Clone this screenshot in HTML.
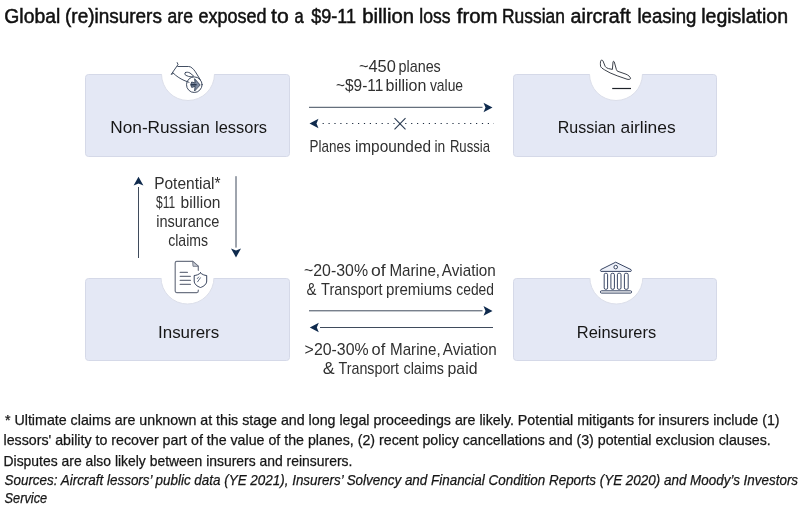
<!DOCTYPE html>
<html><head><meta charset="utf-8">
<style>
html,body{margin:0;padding:0;background:#fff;}
body{width:806px;height:510px;overflow:hidden;position:relative;}
svg{position:absolute;left:0;top:0;display:block;}
#dg{will-change:transform;}

text{font-family:"Liberation Sans",sans-serif;fill:#222;}
.t{font-size:19.6px;font-weight:normal;fill:#111;stroke:#111;stroke-width:0.5px;}
.m{font-size:16.4px;fill:#303030;}
.b{font-size:17.4px;fill:#161616;}
.f{font-size:14.2px;fill:#161616;stroke:#161616;stroke-width:0.25px;}
.s{font-size:14px;font-style:italic;fill:#161616;stroke:#161616;stroke-width:0.25px;}
</style></head>
<body>
<svg id="dg" width="806" height="510" viewBox="0 0 806 510">
<defs>
  <clipPath id="cb1"><rect x="0" y="74" width="806" height="40"/></clipPath>
  <clipPath id="cb2"><rect x="0" y="278" width="806" height="40"/></clipPath>
</defs>

<!-- boxes -->
<g fill="#e4e8f5" stroke="#d5d9e8" stroke-width="1">
  <rect x="85.5" y="74.5" width="204" height="82" rx="3"/>
  <rect x="513.5" y="74.5" width="203" height="82" rx="3"/>
  <rect x="85.5" y="278.5" width="204" height="82" rx="3"/>
  <rect x="513.5" y="278.5" width="203" height="82" rx="3"/>
</g>
<!-- circles -->
<g fill="#fff" stroke="#dcdfea" stroke-width="1">
  <circle cx="188" cy="74" r="26.5" clip-path="url(#cb1)"/>
  <circle cx="616" cy="74" r="26.5" clip-path="url(#cb1)"/>
  <circle cx="187.5" cy="277.5" r="26.5" clip-path="url(#cb2)"/>
  <circle cx="616.3" cy="277.5" r="26.5" clip-path="url(#cb2)"/>
</g>

<!-- icon: hand + coin -->
<g fill="none" stroke="#2c3a50" stroke-width="0.9" stroke-linecap="round" stroke-linejoin="round">
  <path d="M177.2 62.6 L178 64.6 L171.2 74.4 L173.4 73.4"/>
  <path d="M177.8 66.5 L188.6 66.5 C191 66.4 193.5 69 195.4 71.8 L200.2 79.6"/>
  <path d="M173.4 73.2 C176 76 180 78.6 184 80.4 L189 82.3"/>
  <path d="M185.3 72.6 C186.3 71.9 188.4 72.1 190 73 L193.6 76 C192.5 77 190.5 77 188.5 76.4 L186 75.4 C184.6 74.8 184.5 73.2 185.3 72.6 Z"/>
  <circle cx="194.3" cy="84.7" r="7.8"/>
  <path d="M199.9 84.7 L194.6 78.7 L195.1 83 L191.7 82 L190.7 84.7 L191.7 87.4 L195.1 86.4 L194.6 90.7 Z" stroke-width="0.85" fill="#7d8aa0"/>
  <path d="M191.5 84.7 L196 84.7" stroke-width="1.6"/>
</g>
<!-- icon: plane landing -->
<g fill="none" stroke="#262b36" stroke-width="0.9" stroke-linejoin="round">
  <path d="M600.8 60.6 C601.6 59.9 602.6 60.1 603 61 L605.2 66.4 C606 67.6 607 68.2 608.5 68.6 L612.4 69.4 L613 62 C613.2 61 614 61.2 614.3 62 L616.4 69.6 C616.6 70.5 617 71 618 71.4 L626 74.2 C628.5 75.2 630.3 76.8 630.6 78.6 C629.8 79.6 628.3 79.5 627 79.2 L617.2 75.8 L610.1 72.9 L604.5 69.8 C602.5 68.6 601 67.5 600.6 66.4 C600.3 64.5 600.3 62 600.8 60.6 Z"/>
  <line x1="612.2" y1="88.5" x2="631" y2="88.5" stroke="#1e2229" stroke-width="1.2"/>
</g>
<!-- icon: document + shield -->
<g fill="none" stroke="#6e7584" stroke-width="1.2" stroke-linejoin="round" stroke-linecap="round">
  <path d="M198.3 270.3 L198.3 266.2 L192.7 261.4 L176.7 261.4 Q175.2 261.4 175.2 262.9 L175.2 291.1 Q175.2 292.6 176.7 292.6 L196.8 292.6 Q198.3 292.6 198.3 291.1 L198.3 290"/>
  <path d="M192.7 261.6 L193 266.3 L198 266.3 Z" fill="#c9cdd6" stroke-width="0.9"/>
  <path d="M180.2 272.4 L187.4 272.4 M180.2 276.3 L190.4 276.3 M180.2 280.4 L190.4 280.4 M180.2 284.4 L190.4 284.4"/>
</g>
<g fill="#fff" stroke="#2e3b55" stroke-width="0.95" stroke-linejoin="round" stroke-linecap="round">
  <path d="M200.5 272.9 C198.8 274.5 196.5 275.4 194.2 275.5 L194.2 281 C194.2 284 197 286.4 200.5 287.5 C204 286.4 206.7 284 206.7 281 L206.7 275.5 C204.4 275.4 202.2 274.5 200.5 272.9 Z"/>
  <path d="M197.3 278.6 L198.7 277 M197.6 281.8 L200.4 277.8" stroke="#55637a"/>
</g>
<!-- icon: bank -->
<g fill="#fff" stroke="#2e3c5c" stroke-width="0.95" stroke-linejoin="round">
  <path d="M615.7 262.2 L600.8 269.6 Q600 270.6 600.9 271.4 L630.9 271.4 Q631.8 270.6 631 269.6 Z" fill="#eef1f9"/>
  <circle cx="615.7" cy="267.1" r="1.8"/>
  <rect x="604.2" y="273.3" width="3.4" height="16" rx="1.4"/>
  <rect x="610.9" y="273.3" width="3.5" height="16" rx="1.4"/>
  <rect x="617.4" y="273.3" width="3.6" height="16" rx="1.4"/>
  <rect x="624.4" y="273.3" width="3.8" height="16" rx="1.4"/>
  <rect x="600.4" y="290.8" width="31.2" height="2.3" rx="1.1"/>
</g>

<!-- box labels -->
<text id="NRL_0" class="b" x="110.30" y="133.3" textLength="99.53" lengthAdjust="spacingAndGlyphs">Non-Russian</text>
<text id="NRL_1" class="b" x="215.00" y="133.3" textLength="52.09" lengthAdjust="spacingAndGlyphs">lessors</text>
<text id="RA_0" class="b" x="557.70" y="133.3" textLength="57.84" lengthAdjust="spacingAndGlyphs">Russian</text>
<text id="RA_1" class="b" x="620.50" y="133.3" textLength="55.09" lengthAdjust="spacingAndGlyphs">airlines</text>
<text id="Ins" class="b" x="158.00" y="337.5" textLength="61.21" lengthAdjust="spacingAndGlyphs">Insurers</text>
<text id="Reins" class="b" x="576.80" y="337.5" textLength="79.38" lengthAdjust="spacingAndGlyphs">Reinsurers</text>

<!-- middle texts top -->
<text id="450_0" class="m" x="358.90" y="72.1" textLength="36.92" lengthAdjust="spacingAndGlyphs">~450</text>
<text id="450_1" class="m" x="398.50" y="72.1" textLength="42.31" lengthAdjust="spacingAndGlyphs">planes</text>
<text id="9-11_0" class="m" x="336.00" y="91.0" textLength="47.28" lengthAdjust="spacingAndGlyphs">~$9-11</text>
<text id="9-11_1" class="m" x="385.50" y="91.0" textLength="40.92" lengthAdjust="spacingAndGlyphs">billion</text>
<text id="9-11_2" class="m" x="429.90" y="91.0" textLength="33.19" lengthAdjust="spacingAndGlyphs">value</text>
<text id="impounded_0" class="m" x="309.60" y="152.0" textLength="41.12" lengthAdjust="spacingAndGlyphs">Planes</text>
<text id="impounded_1" class="m" x="354.90" y="152.0" textLength="76.11" lengthAdjust="spacingAndGlyphs">impounded</text>
<text id="impounded_2" class="m" x="434.40" y="152.0" textLength="10.77" lengthAdjust="spacingAndGlyphs">in</text>
<text id="impounded_3" class="m" x="449.90" y="152.0" textLength="40.11" lengthAdjust="spacingAndGlyphs">Russia</text>

<!-- middle texts bottom -->
<text id="m1_0" class="m" x="304.00" y="275.6" textLength="64.08" lengthAdjust="spacingAndGlyphs">~20-30%</text>
<text id="m1_1" class="m" x="371.00" y="275.6" textLength="14.67" lengthAdjust="spacingAndGlyphs">of</text>
<text id="m1_2" class="m" x="389.40" y="275.6" textLength="50.66" lengthAdjust="spacingAndGlyphs">Marine,</text>
<text id="m1_3" class="m" x="441.80" y="275.6" textLength="54.02" lengthAdjust="spacingAndGlyphs">Aviation</text>
<text id="m2_0" class="m" x="306.50" y="294.8" textLength="9.94" lengthAdjust="spacingAndGlyphs">&amp;</text>
<text id="m2_1" class="m" x="321.10" y="294.8" textLength="61.55" lengthAdjust="spacingAndGlyphs">Transport</text>
<text id="m2_2" class="m" x="386.10" y="294.8" textLength="65.95" lengthAdjust="spacingAndGlyphs">premiums</text>
<text id="m2_3" class="m" x="456.30" y="294.8" textLength="37.67" lengthAdjust="spacingAndGlyphs">ceded</text>
<text id="m3_0" class="m" x="304.60" y="355.2" textLength="64.08" lengthAdjust="spacingAndGlyphs">&gt;20-30%</text>
<text id="m3_1" class="m" x="371.60" y="355.2" textLength="13.67" lengthAdjust="spacingAndGlyphs">of</text>
<text id="m3_2" class="m" x="390.00" y="355.2" textLength="50.66" lengthAdjust="spacingAndGlyphs">Marine,</text>
<text id="m3_3" class="m" x="442.80" y="355.2" textLength="54.02" lengthAdjust="spacingAndGlyphs">Aviation</text>
<text id="m4_0" class="m" x="322.80" y="374.3" textLength="11.94" lengthAdjust="spacingAndGlyphs">&amp;</text>
<text id="m4_1" class="m" x="338.50" y="374.3" textLength="60.55" lengthAdjust="spacingAndGlyphs">Transport</text>
<text id="m4_2" class="m" x="403.50" y="374.3" textLength="40.45" lengthAdjust="spacingAndGlyphs">claims</text>
<text id="m4_3" class="m" x="447.50" y="374.3" textLength="30.00" lengthAdjust="spacingAndGlyphs">paid</text>

<!-- potential -->
<text id="pot1" class="m" x="154.20" y="188.7" textLength="66.28" lengthAdjust="spacingAndGlyphs">Potential*</text>
<text id="pot2_0" class="m" x="156.00" y="207.6" textLength="19.14" lengthAdjust="spacingAndGlyphs">$11</text>
<text id="pot2_1" class="m" x="180.60" y="207.6" textLength="39.92" lengthAdjust="spacingAndGlyphs">billion</text>
<text id="pot3" class="m" x="156.20" y="226.7" textLength="63.08" lengthAdjust="spacingAndGlyphs">insurance</text>
<text id="pot4" class="m" x="168.20" y="246.0" textLength="39.89" lengthAdjust="spacingAndGlyphs">claims</text>

<!-- arrows -->
<g stroke="#3f4b5c" stroke-width="1" fill="none">
  <line x1="309" y1="107.3" x2="482.5" y2="107.3"/>
  <line x1="309" y1="310.8" x2="482.5" y2="310.8"/>
  <line x1="320" y1="327.5" x2="493" y2="327.5"/>
  <line x1="138.5" y1="187" x2="138.5" y2="258"/>
  <line x1="236" y1="176.2" x2="236" y2="247.6"/>
</g>
<g fill="#0f2a4d">
  <!-- right heads -->
  <path d="M492.5 107.5 L483.5 102.8 L485.5 107.5 L483.5 112.2 Z"/>
  <path d="M492.5 310.9 L483.5 306.1 L485.5 310.9 L483.5 315.7 Z"/>
  <!-- left heads -->
  <path d="M309.5 123.5 L318.5 118.8 L316.5 123.5 L318.5 128.2 Z"/>
  <path d="M309.8 327.5 L318.8 322.8 L316.8 327.5 L318.8 332.2 Z"/>
  <!-- up head -->
  <path d="M138.5 176.8 L133.6 185.6 L138.5 183.6 L143.4 185.6 Z"/>
  <!-- down head -->
  <path d="M236 257.4 L231 248.6 L236 250.6 L241 248.6 Z"/>
</g>
<!-- dotted line -->
<line x1="322.6" y1="123.5" x2="494" y2="123.5" stroke="#1f2d40" stroke-width="1.2" stroke-dasharray="1.2 4.7"/>
<!-- X -->
<g stroke="#2a3b52" stroke-width="1.1">
  <line x1="394.5" y1="118.2" x2="405.5" y2="129.3"/>
  <line x1="405.5" y1="118.2" x2="394.5" y2="129.3"/>
</g>

</svg>
<svg id="tx" width="806" height="510" viewBox="0 0 806 510">
<!-- title -->
<text id="title_0" class="t" x="4.30" y="22.7" textLength="55.92" lengthAdjust="spacingAndGlyphs">Global</text>
<text id="title_1" class="t" x="65.00" y="22.7" textLength="96.93" lengthAdjust="spacingAndGlyphs">(re)insurers</text>
<text id="title_2" class="t" x="167.60" y="22.7" textLength="25.27" lengthAdjust="spacingAndGlyphs">are</text>
<text id="title_3" class="t" x="198.50" y="22.7" textLength="68.04" lengthAdjust="spacingAndGlyphs">exposed</text>
<text id="title_4" class="t" x="271.10" y="22.7" textLength="17.66" lengthAdjust="spacingAndGlyphs">to</text>
<text id="title_5" class="t" x="294.40" y="22.7" textLength="9.18" lengthAdjust="spacingAndGlyphs">a</text>
<text id="title_6" class="t" x="311.30" y="22.7" textLength="44.79" lengthAdjust="spacingAndGlyphs">$9-11</text>
<text id="title_7" class="t" x="362.20" y="22.7" textLength="51.99" lengthAdjust="spacingAndGlyphs">billion</text>
<text id="title_8" class="t" x="419.30" y="22.7" textLength="31.20" lengthAdjust="spacingAndGlyphs">loss</text>
<text id="title_9" class="t" x="456.80" y="22.7" textLength="40.80" lengthAdjust="spacingAndGlyphs">from</text>
<text id="title_10" class="t" x="502.00" y="22.7" textLength="62.86" lengthAdjust="spacingAndGlyphs">Russian</text>
<text id="title_11" class="t" x="570.60" y="22.7" textLength="60.08" lengthAdjust="spacingAndGlyphs">aircraft</text>
<text id="title_12" class="t" x="637.40" y="22.7" textLength="59.02" lengthAdjust="spacingAndGlyphs">leasing</text>
<text id="title_13" class="t" x="701.20" y="22.7" textLength="86.90" lengthAdjust="spacingAndGlyphs">legislation</text>
<!-- footer -->
<text id="f1" class="f" x="5.00" y="424.7" textLength="774.56" lengthAdjust="spacingAndGlyphs">* Ultimate claims are unknown at this stage and long legal proceedings are likely. Potential mitigants for insurers include (1)</text>
<text id="f2" class="f" x="3.50" y="444.9" textLength="767.29" lengthAdjust="spacingAndGlyphs">lessors' ability to recover part of the value of the planes, (2) recent policy cancellations and (3) potential exclusion clauses.</text>
<text id="f3" class="f" x="3.50" y="465.6" textLength="348.86" lengthAdjust="spacingAndGlyphs">Disputes are also likely between insurers and reinsurers.</text>
<text id="f4" class="s" x="4.50" y="485.0" textLength="793.59" lengthAdjust="spacingAndGlyphs">Sources: Aircraft lessors’ public data (YE 2021), Insurers’ Solvency and Financial Condition Reports (YE 2020) and Moody’s Investors</text>
<text id="f5" class="s" x="4.50" y="502.5" textLength="42.66" lengthAdjust="spacingAndGlyphs">Service</text>
</svg>
</body></html>
